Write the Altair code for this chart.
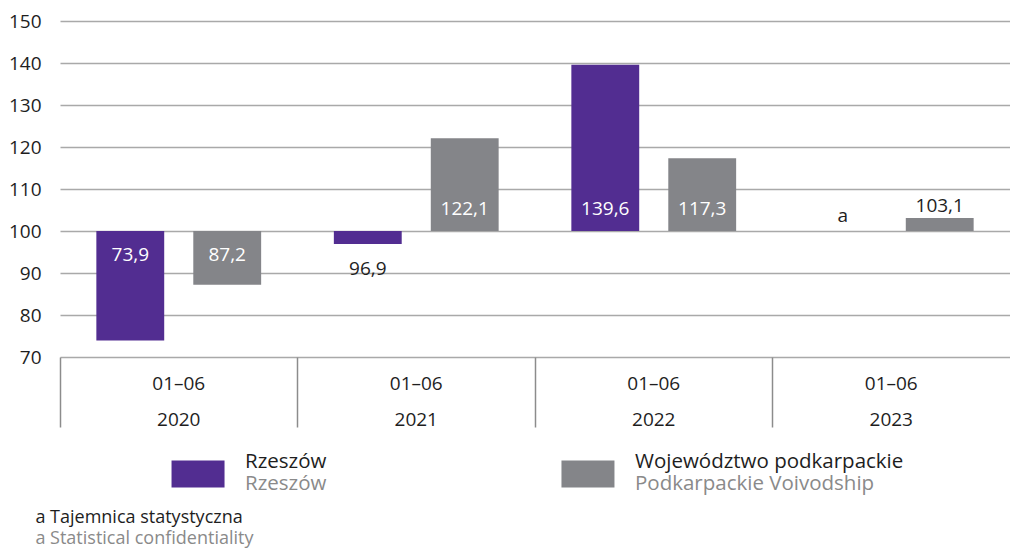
import altair as alt
import pandas as pd

# ---- data ----
years = ["2020", "2021", "2022", "2023"]
period = "01–06"
series_pl = ["Rzeszów", "Województwo podkarpackie"]
series_en = ["Rzeszów", "Podkarpackie Voivodship"]
rzeszow = [73.9, 96.9, 139.6, None]          # None = statistical confidentiality
podkarpackie = [87.2, 122.1, 117.3, 103.1]
confidential_mark = "a"
footnote_pl = "a Tajemnica statystyczna"
footnote_en = "a Statistical confidentiality"
y_ticks = [70, 80, 90, 100, 110, 120, 130, 140, 150]
colors = ["#522D91", "#848589"]
BASE = 100

FONT = "Open Sans"
TXT = "#1e1e1e"
SUB = "#8a8a8a"


def place(v):
    if v is None:
        return "conf"
    d = v - BASE
    if d >= 10:
        return "in_up"
    if d > 0:
        return "out_up"
    if d <= -10:
        return "in_down"
    return "out_down"


rows = []
for s, vals in zip(series_pl, [rzeszow, podkarpackie]):
    for y, v in zip(years, vals):
        rows.append({
            "year": y,
            "series": s,
            "value": v,
            "label": confidential_mark if v is None else f"{v:.1f}".replace(".", ","),
            "place": place(v),
        })
df = pd.DataFrame(rows)

color_scale = alt.Scale(domain=series_pl, range=colors)
x_scale = alt.Scale(paddingInner=0, paddingOuter=0)

x_enc = alt.X(
    "year:N",
    sort=years,
    scale=x_scale,
    axis=alt.Axis(
        title=None,
        labelExpr=f"['{period}', datum.label]",
        labelAngle=0,
        bandPosition=0,
        tickSize=70,
        tickColor="#8c8c8c",
        tickWidth=1.5,
        domain=False,
        labelPadding=-53,
        labelBaseline="top",
        labelLineHeight=36,
        labelFontSize=19,
        labelColor=TXT,
        labelFont=FONT,
    ),
)
xoff_enc = alt.XOffset("series:N", sort=series_pl,
                       scale=alt.Scale(paddingInner=0.3, paddingOuter=0.375))
y_scale = alt.Scale(domain=[70, 150], nice=False, zero=False)

base = alt.Chart(df)

bars = base.mark_bar().encode(
    x=x_enc,
    xOffset=xoff_enc,
    y=alt.Y("value:Q", scale=y_scale,
            axis=alt.Axis(values=y_ticks, title=None, domain=False, ticks=False,
                          labelPadding=19, labelFontSize=19, labelColor=TXT,
                          labelFont=FONT, gridColor="#a9a9a9", gridWidth=1.5)),
    y2=alt.datum(BASE),
    color=alt.Color("series:N", scale=color_scale, legend=None),
)


def label_layer(kind, anchor_on_value, dy, color):
    y = alt.Y("value:Q", scale=y_scale) if anchor_on_value else alt.datum(BASE)
    return base.transform_filter(alt.datum.place == kind).mark_text(
        dy=dy, color=color, fontSize=19, font=FONT, baseline="middle"
    ).encode(x=alt.X("year:N", sort=years), xOffset=alt.XOffset("series:N", sort=series_pl),
             y=y, text="label:N")


labels = [
    label_layer("in_up", False, -22, "white"),
    label_layer("out_up", True, -12, TXT),
    label_layer("in_down", False, 24, "white"),
    label_layer("out_down", True, 25, TXT),
    label_layer("conf", False, -15, TXT),
]

main = alt.layer(bars, *labels).properties(width=950, height=336)

# ---- legend built from the series arrays ----
leg_df = pd.DataFrame({"pl": series_pl, "en": series_en})
leg = alt.Chart(leg_df).encode(
    x=alt.X("pl:N", sort=series_pl,
            scale=alt.Scale(type="point", padding=0.354, domain=series_pl), axis=None)
)
sq = leg.mark_point(shape="M-1,-0.51H1V0.51H-1Z", filled=True, size=2809, opacity=1).encode(
    color=alt.Color("pl:N", scale=color_scale, legend=None)
)
t1 = leg.mark_text(align="left", dx=47, dy=-12, fontSize=20.5, font=FONT, color=TXT).encode(text="pl:N")
t2 = leg.mark_text(align="left", dx=47, dy=10, fontSize=20.5, font=FONT, color=SUB).encode(text="en:N")
legend_chart = alt.layer(sq, t1, t2).properties(width=666, height=40)

chart = alt.vconcat(main, legend_chart, spacing=23).properties(
    padding={"left": 0, "top": 4, "right": 0, "bottom": 0},
    title=alt.TitleParams(
        text=footnote_pl, subtitle=footnote_en, orient="bottom", anchor="start",
        dx=27, offset=14, fontSize=18, subtitleFontSize=18, font=FONT, subtitleFont=FONT,
        fontWeight="normal", color=TXT, subtitleColor=SUB, subtitlePadding=3,
    ),
).configure(font=FONT, view=alt.ViewConfig(stroke=None))

chart.save("out.html", embed_options={"renderer": "svg", "actions": False})
